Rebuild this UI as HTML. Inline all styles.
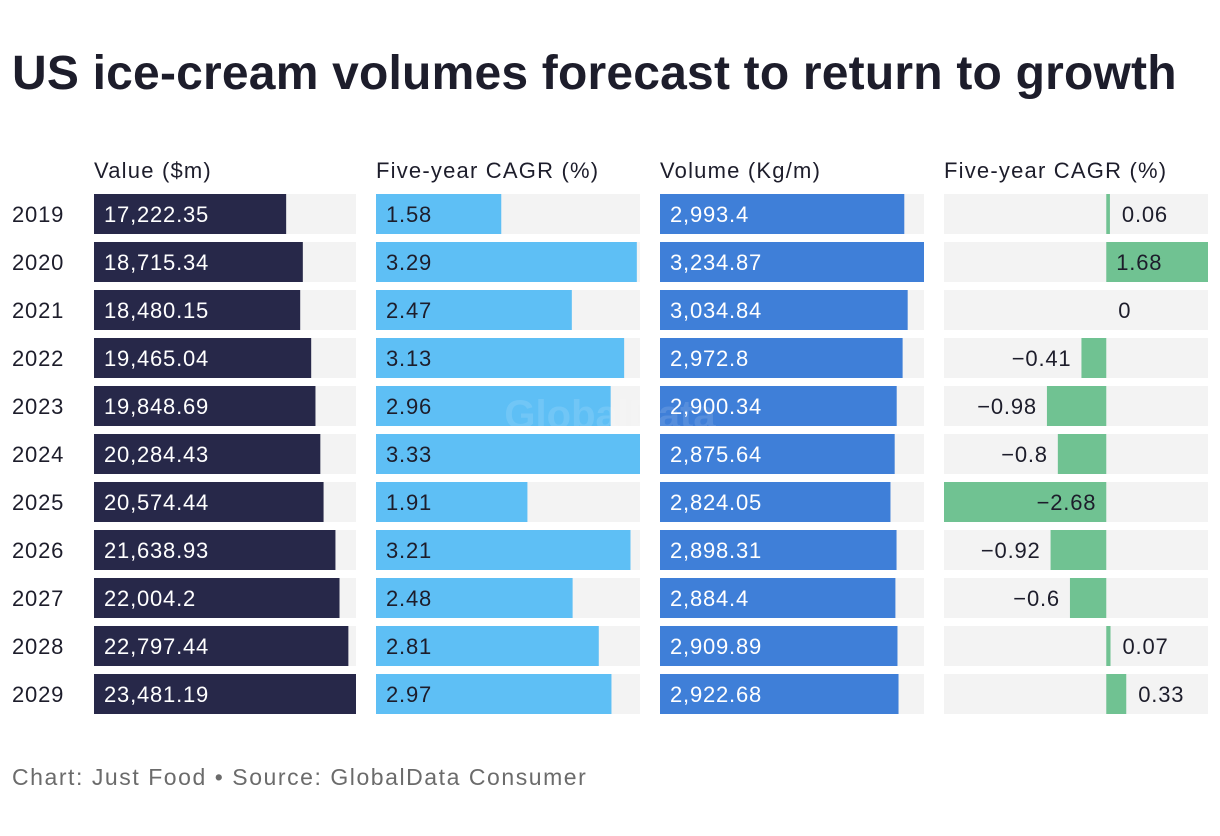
<!DOCTYPE html>
<html><head><meta charset="utf-8"><style>
body{margin:0;background:#fff;width:1220px;height:836px;overflow:hidden;font-family:"Liberation Sans",sans-serif;color:#1d1d2b}
h1{position:absolute;left:12px;top:46px;margin:0;font-size:48px;font-weight:bold;letter-spacing:0.2px;color:#1d1d2b;white-space:nowrap}
#src{position:absolute;left:12px;top:764px;font-size:23px;letter-spacing:1.55px;color:#6b6b6b;white-space:nowrap}
svg{position:absolute;left:0;top:0}
</style></head><body>
<h1>US ice-cream volumes forecast to return to growth</h1>
<svg id="c" width="1220" height="836"></svg>
<div id="src">Chart: Just Food • Source: GlobalData Consumer</div>
<script>
const years=["2019","2020","2021","2022","2023","2024","2025","2026","2027","2028","2029"];
const valueM=[17222.35,18715.34,18480.15,19465.04,19848.69,20284.43,20574.44,21638.93,22004.2,22797.44,23481.19];
const valueCagr=[1.58,3.29,2.47,3.13,2.96,3.33,1.91,3.21,2.48,2.81,2.97];
const volume=[2993.4,3234.87,3034.84,2972.8,2900.34,2875.64,2824.05,2898.31,2884.4,2909.89,2922.68];
const volumeCagr=[0.06,1.68,0,-0.41,-0.98,-0.8,-2.68,-0.92,-0.6,0.07,0.33];
const valueLabels=["17,222.35","18,715.34","18,480.15","19,465.04","19,848.69","20,284.43","20,574.44","21,638.93","22,004.2","22,797.44","23,481.19"];
const volumeLabels=["2,993.4","3,234.87","3,034.84","2,972.8","2,900.34","2,875.64","2,824.05","2,898.31","2,884.4","2,909.89","2,922.68"];
const headers=["Value ($m)","Five-year CAGR (%)","Volume (Kg/m)","Five-year CAGR (%)"];

const NS="http://www.w3.org/2000/svg",svg=document.getElementById('c');
function mk(t,a,p){const e=document.createElementNS(NS,t);for(const k in a)e.setAttribute(k,a[k]);(p||svg).appendChild(e);return e;}
const colX=[94,376,660,944],colW=264,top0=194,step=48,bh=40;
const LS='0.8px';
headers.forEach((h,i)=>{const t=mk('text',{x:colX[i],y:178,'font-size':22,fill:'#1d1d2b','letter-spacing':'1.2px'});t.textContent=h;
});
function col(ci,vals,labels,color,tc,name,w){
 const max=Math.max(...vals);
 vals.forEach((v,i)=>{const y=top0+i*step,x0=colX[ci],ww=w;
  const bg=mk('rect',{x:x0,y:y,width:ww,height:bh,fill:'#f3f3f3'});
  
  const r=mk('rect',{x:x0,y:y,width:ww*v/max,height:bh,fill:color});
  
  const t=mk('text',{x:x0+10,y:y+28,'font-size':22,fill:tc,'letter-spacing':LS});t.textContent=labels[i];
  
 });
}
years.forEach((yr,i)=>{const t=mk('text',{x:12,y:top0+i*step+28,'font-size':22,fill:'#1d1d2b','letter-spacing':LS});t.textContent=yr;
 });
col(0,valueM,valueLabels,'#272849','#fff','value',262);
col(1,valueCagr,valueCagr.map(String),'#5ebff5','#1d1d2b','value-cagr',264);
col(2,volume,volumeLabels,'#3f7fd8','#fff','volume',264);
const vmin=Math.min(...volumeCagr),vmax=Math.max(...volumeCagr);
const sx=v=>colX[3]+(v-vmin)/(vmax-vmin)*colW;
volumeCagr.forEach((v,i)=>{const y=top0+i*step;
 const bg=mk('rect',{x:colX[3],y:y,width:colW,height:bh,fill:'#f3f3f3'});
 
 const z=sx(0),x=sx(v);
 const r=mk('rect',{x:Math.min(z,x),y:y,width:Math.abs(x-z),height:bh,fill:'#70c292'});
 
 let tx,anc;
 if(v>=0){ tx=(x-z>60)?z+10:x+12; anc='start'; }
 else { anc='end'; tx=(z-x>100)?z-10:x-10; }
 const t=mk('text',{x:tx,y:y+28,'font-size':22,fill:'#1d1d2b','text-anchor':anc,'letter-spacing':LS});t.textContent=String(v).replace('-','−');
 
});
const wm=mk('text',{x:610,y:428,'font-size':40,'font-weight':'bold',fill:'#ffffff','fill-opacity':0.12,'text-anchor':'middle'});wm.textContent='GlobalData';

</script>
</body></html>
